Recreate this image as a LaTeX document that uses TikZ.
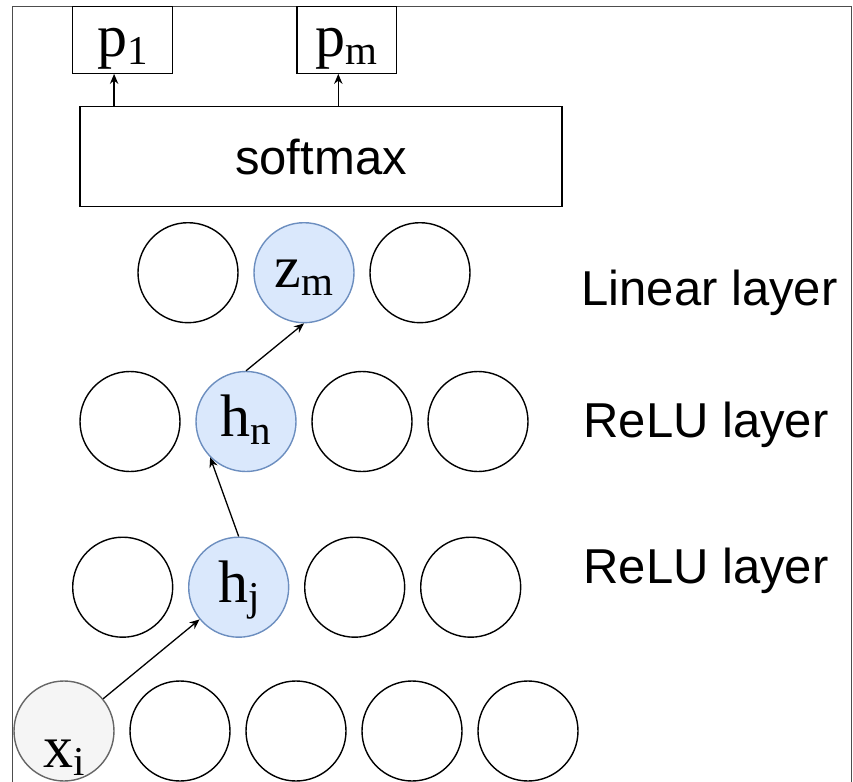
\documentclass[tikz,border=0pt]{standalone}
\usepackage{fontspec}
\setmainfont{Liberation Serif}
\setsansfont{Liberation Sans}
\usetikzlibrary{arrows.meta,positioning,calc}

\definecolor{hiblue}{HTML}{DAE8FC}
\definecolor{hiblueline}{HTML}{6C8EBF}
\definecolor{ingray}{HTML}{F5F5F5}
\definecolor{ingrayline}{HTML}{666666}
\definecolor{framegray}{HTML}{4D4D4D}

\newcommand{\vsub}[2]{{\fontsize{30}{30}\selectfont #1}\raisebox{-4pt}{\fontsize{20.5}{20.5}\selectfont #2}}

\tikzset{
  neuron/.style={circle,draw=black,line width=0.7pt,minimum size=50pt,inner sep=0pt,
                 text height=20pt,text depth=5pt},
  active/.style={neuron,fill=hiblue,draw=hiblueline},
  inputn/.style={neuron,fill=ingray,draw=ingrayline,text height=36pt,text depth=0pt},
  outbox/.style={draw=black,line width=0.6pt,rectangle,minimum width=49.8pt,
                 minimum height=33.3pt,inner sep=0pt,text height=16.7pt,text depth=0pt},
  layerlbl/.style={anchor=base west,inner sep=0pt,font=\sffamily\fontsize{24.5}{24.5}\selectfont},
  conn/.style={->,line width=0.65pt}
}

\begin{document}
\begin{tikzpicture}[>={Stealth[length=5pt,width=4.2pt]},x=0.5pt,y=-0.5pt,node distance=58pt]
\clip (0,0) rectangle (853,782);
% frame
\draw[framegray,line width=0.7pt] (12.7,800) -- (12.7,6.7) -- (851.7,6.7) -- (851.7,800);

% outputs
\node[outbox] at (122.5,40) (p1) {\vsub{p}{1}};
\node[outbox] at (346.7,40) (pm) {\vsub{p}{m}};
\node[draw=black,line width=0.6pt,rectangle,minimum width=241pt,minimum height=50pt,
      font=\sffamily\fontsize{24.5}{24.5}\selectfont] at (321,156.7) (sm) {softmax};
\draw[conn] ($(p1.south |- sm.north)+(-4.2pt,0)$) -- ($(p1.south)+(-4.2pt,0)$);
\draw[conn] ($(pm.south |- sm.north)+(-4.2pt,0)$) -- ($(pm.south)+(-4.2pt,0)$);

% linear layer
\node[neuron] at (188,272.7) (lin1) {};
\node[active,right of=lin1] (zm) {\vsub{z}{m}};
\node[neuron,right of=zm] (lin3) {};
\node[layerlbl] at (581,305) (linlbl) {Linear layer};

% upper relu layer
\node[neuron] at (130,421.5) (ra1) {};
\node[active,right of=ra1] (hn) {\vsub{h}{n}};
\node[neuron,right of=hn] (ra3) {};
\node[neuron,right of=ra3] (ra4) {};
\node[layerlbl] at (583,437) (ralbl) {ReLU layer};

% lower relu layer
\node[neuron] at (122.7,587.2) (rb1) {};
\node[active,right of=rb1] (hj) {\vsub{h}{j}};
\node[neuron,right of=hj] (rb3) {};
\node[neuron,right of=rb3] (rb4) {};
\node[layerlbl] at (583,583) (rblbl) {ReLU layer};

% inputs
\node[inputn] at (64,731) (xi) {\vsub{x}{i}};
\node[neuron,right of=xi] (in2) {};
\node[neuron,right of=in2] (in3) {};
\node[neuron,right of=in3] (in4) {};
\node[neuron,right of=in4] (in5) {};

\draw[conn] (xi) -- (hj);
\draw[conn] (hj.north) -- (hn.south west);
\draw[conn] (hn.north) -- (zm.south);
\end{tikzpicture}
\end{document}
